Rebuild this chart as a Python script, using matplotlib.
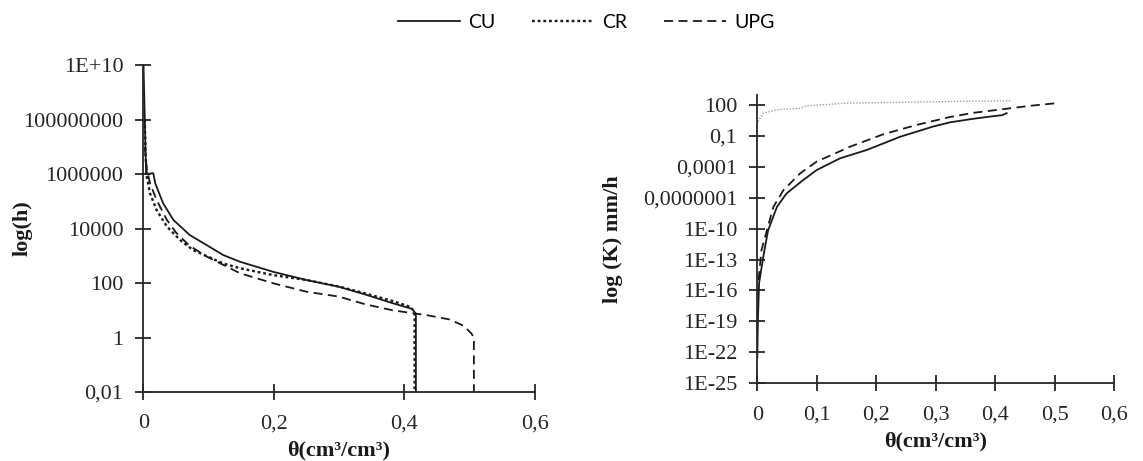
import matplotlib
matplotlib.use("Agg")
import matplotlib.pyplot as plt
from matplotlib.ticker import FixedLocator, FixedFormatter, NullLocator
from matplotlib.lines import Line2D

# ---------------- data: retention curve (left) ----------------
cu_theta_h = [0.0, 0.002, 0.004, 0.015, 0.018, 0.030, 0.046, 0.071, 0.097, 0.122, 0.148,
              0.199, 0.250, 0.300, 0.340, 0.382, 0.412, 0.418, 0.418]
cu_h = [1e10, 1e8, 1e6, 10**6.03, 10**5.66, 10**4.93, 10**4.31, 10**3.76, 10**3.39, 10**3.03,
        10**2.78, 10**2.41, 10**2.11, 10**1.86, 10**1.58, 10**1.26, 10**1.05, 10**0.87, 0.01]

cr_theta_h = [0.002, 0.003, 0.005, 0.010, 0.020, 0.036, 0.056, 0.076, 0.122, 0.148, 0.199,
              0.250, 0.300, 0.340, 0.382, 0.410, 0.416, 0.416]
cr_h = [1e8, 10**6.8, 10**5.9, 10**5.29, 10**4.68, 10**4.07, 10**3.58, 10**3.21, 10**2.72,
        10**2.54, 10**2.29, 10**2.11, 10**1.87, 10**1.62, 10**1.34, 10**1.12, 10**0.93, 0.01]

upg_theta_h = [0.002, 0.005, 0.010, 0.020, 0.036, 0.050, 0.070, 0.097, 0.148, 0.199, 0.250,
               0.300, 0.340, 0.382, 0.437, 0.470, 0.492, 0.503, 0.507, 0.507]
upg_h = [1e7, 10**6.2, 10**5.66, 10**5.05, 10**4.31, 10**3.85, 10**3.38, 10**2.97, 10**2.36,
         10**1.99, 10**1.68, 10**1.50, 10**1.22, 10**1.0, 10**0.81, 10**0.66, 10**0.42,
         10**0.15, 10**0.0, 0.01]

# ---------------- data: conductivity curve (right) ----------------
cu_theta_k = [0.0, 0.001, 0.003, 0.010, 0.018, 0.033, 0.049, 0.077, 0.100, 0.139, 0.184,
              0.240, 0.268, 0.296, 0.324, 0.360, 0.390, 0.412, 0.419]
cu_k = [10**-22.5, 10**-18.9, 10**-15.3, 10**-12.75, 10**-10.2, 10**-7.9, 10**-6.6, 10**-5.3,
        10**-4.32, 10**-3.19, 10**-2.38, 10**-1.1, 10**-0.6, 10**-0.1, 10**0.3, 10**0.62,
        10**0.85, 10**1.0, 10**1.19]

cr_theta_k = [0.001, 0.010, 0.033, 0.049, 0.070, 0.083, 0.150, 0.324, 0.425]
cr_k = [10**0.38, 10**1.19, 10**1.51, 10**1.60, 10**1.62, 10**1.90, 10**2.16, 10**2.32, 10**2.39]

upg_theta_k = [0.002, 0.007, 0.016, 0.027, 0.044, 0.072, 0.100, 0.156, 0.212, 0.268, 0.324,
               0.363, 0.419, 0.458, 0.503]
upg_k = [10**-15.0, 10**-12.1, 10**-10.2, 10**-7.9, 10**-6.27, 10**-4.65, 10**-3.5, 10**-2.06,
         10**-0.85, 10**0.05, 10**0.82, 10**1.22, 10**1.62, 10**1.9, 10**2.16]

# tick labels
h_ticks = [1e-2, 1, 1e2, 1e4, 1e6, 1e8, 1e10]
h_labels = ["0,01", "1", "100", "10000", "1000000", "100000000", "1E+10"]
k_ticks = [1e-25, 1e-22, 1e-19, 1e-16, 1e-13, 1e-10, 1e-7, 1e-4, 1e-1, 1e2]
k_labels = ["1E-25", "1E-22", "1E-19", "1E-16", "1E-13", "1E-10", "0,0000001", "0,0001", "0,1", "100"]
x_ticks_l = [0, 0.2, 0.4, 0.6]
x_labels_l = ["0", "0,2", "0,4", "0,6"]
x_ticks_r = [0, 0.1, 0.2, 0.3, 0.4, 0.5, 0.6]
x_labels_r = ["0", "0,1", "0,2", "0,3", "0,4", "0,5", "0,6"]
series_names = ["CU", "CR", "UPG"]

# ---------------- figure ----------------
W, H = 1143, 461
fig = plt.figure(figsize=(W / 100, H / 100), dpi=100)
serif = "Liberation Serif"
line_c = "#1a1a1a"
axis_c = "#262626"
tick_fs = 16

ax1 = fig.add_axes([143.5 / W, 1 - 392 / H, (534.5 - 143.5) / W, (392 - 65) / H])
ax2 = fig.add_axes([757.3 / W, 1 - 383.3 / H, (1114.3 - 757.3) / W, (383.3 - 95) / H])

solid = dict(color=line_c, lw=1.3, linestyle="-")
dotted = dict(color=line_c, lw=1.7, linestyle=(0, (1.2, 1.2)))
dashed = dict(color=line_c, lw=1.3, linestyle=(0, (5, 3)))

ax1.plot(cu_theta_h, cu_h, **solid)
ax1.plot(cr_theta_h, cr_h, **dotted)
ax1.plot(upg_theta_h, upg_h, **dashed)

ax2.plot(cr_theta_k, cr_k, color="#9a9a9a", lw=1.0, linestyle=(0, (1, 1.2)))
ax2.plot(upg_theta_k, upg_k, **dashed)
ax2.plot(cu_theta_k, cu_k, **solid)

for ax in (ax1, ax2):
    ax.set_yscale("log")
    ax.yaxis.set_minor_locator(NullLocator())
    for s in ("top", "right"):
        ax.spines[s].set_visible(False)
    for s in ("left", "bottom"):
        ax.spines[s].set_color(axis_c)
        ax.spines[s].set_linewidth(1.3)
    ax.tick_params(direction="inout", length=11, width=1.3, color=axis_c,
                   labelsize=tick_fs, labelcolor="#262626")
    ax.tick_params(axis="y", pad=9)
    ax.tick_params(axis="x", pad=10.5)

ax1.set_xlim(0, 0.6)
ax1.set_ylim(1e-2, 1e10)
ax1.xaxis.set_major_locator(FixedLocator(x_ticks_l))
ax1.xaxis.set_major_formatter(FixedFormatter(x_labels_l))
ax1.yaxis.set_major_locator(FixedLocator(h_ticks))
ax1.yaxis.set_major_formatter(FixedFormatter(h_labels))

ax2.set_xlim(0, 0.6)
ax2.set_ylim(1e-25, 10**2.95)
ax2.xaxis.set_major_locator(FixedLocator(x_ticks_r))
ax2.xaxis.set_major_formatter(FixedFormatter(x_labels_r))
ax2.yaxis.set_major_locator(FixedLocator(k_ticks))
ax2.yaxis.set_major_formatter(FixedFormatter(k_labels))

for ax in (ax1, ax2):
    for lab in ax.get_xticklabels() + ax.get_yticklabels():
        lab.set_fontfamily(serif)
        lab.set_fontsize(tick_fs)

lab_kw = dict(fontfamily=serif, fontweight="bold", fontsize=16, color="#1a1a1a")
ax1.set_xlabel("θ(cm³/cm³)", labelpad=5, **lab_kw)
ax1.set_ylabel("log(h)", **lab_kw)
ax1.yaxis.set_label_coords((33 - 143.5) / 391.0, 0.5)
ax2.set_xlabel("θ(cm³/cm³)", labelpad=5, **lab_kw)
ax2.set_ylabel("log (K) mm/h", **lab_kw)
ax2.yaxis.set_label_coords((623 - 757.3) / 357.0, 0.5)

handles = [Line2D([], [], **solid), Line2D([], [], **dotted), Line2D([], [], **dashed)]
fig.legend(handles, series_names, loc="center", bbox_to_anchor=(586 / W, 1 - 22 / H),
           ncol=3, frameon=False, prop={"family": "Lato", "size": 14},
           handlelength=3.2, columnspacing=1.9, handletextpad=0.4)

fig.savefig("out.png", dpi=100)
